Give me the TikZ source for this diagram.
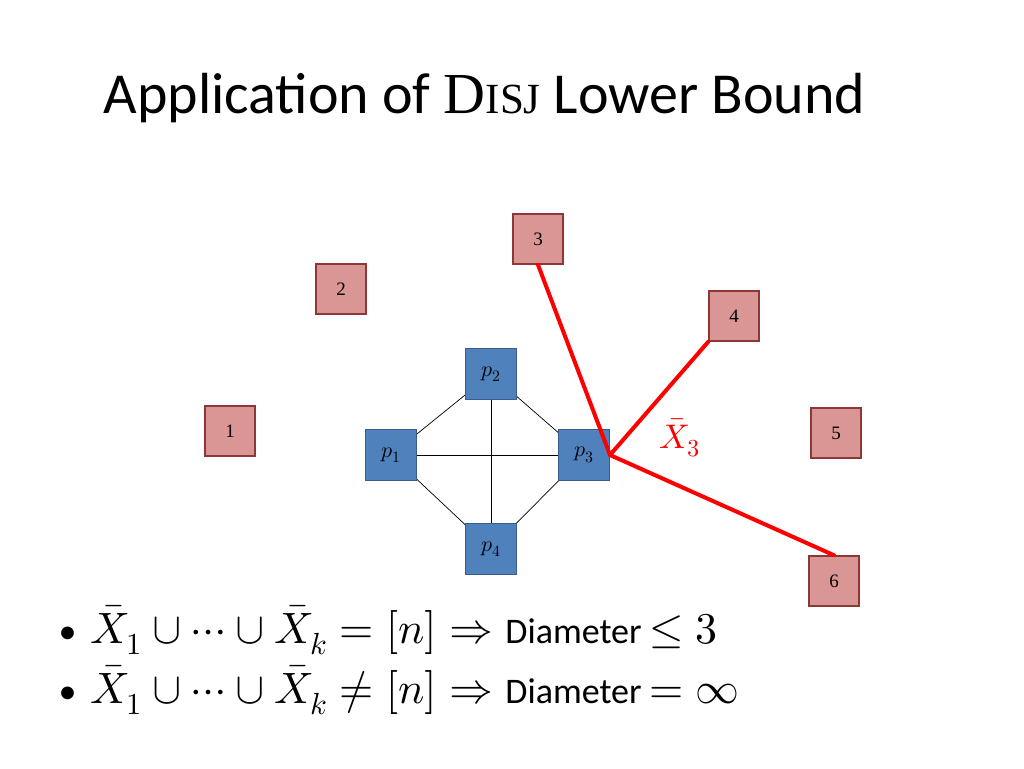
\documentclass[tikz,border=0pt]{standalone}
\usepackage{amsmath}
\usepackage{fontspec}
\usepackage{unicode-math}
\setmainfont{Carlito}
\setmathfont{Latin Modern Math}[Scale=1.22]
\DeclareMathSizes{18}{18}{13}{10}
\DeclareMathSizes{28}{28}{20}{14}
\DeclareMathSizes{36}{36}{25}{18}
\newfontfamily\serifnum{Liberation Serif}
\definecolor{pinkf}{RGB}{217,150,148}
\definecolor{pinkd}{RGB}{140,56,54}
\definecolor{bluef}{RGB}{79,129,189}
\definecolor{blued}{RGB}{56,93,138}
\begin{document}
\begin{tikzpicture}[x=1pt,y=-1pt,
  pk/.style={draw=pinkd,fill=pinkf,line width=1.5pt,minimum size=50pt,inner sep=0pt,font=\fontsize{19}{22}\selectfont\serifnum},
  bl/.style={draw=blued,fill=bluef,line width=1.5pt,minimum size=51pt,inner sep=0pt,font=\fontsize{18}{20}\selectfont},
  thin/.style={black,line width=0.7pt},
  red/.style={draw=red,line width=4pt}]
\useasboundingbox (0,0) rectangle (1024,768);
\node[anchor=west] (title) at (100,98) {\fontsize{58}{64}\selectfont Application of {\serifnum D\fontsize{43}{46}\selectfont ISJ} Lower Bound};
\node[pk] (n1) at (230,431) {1};
\node[pk] (n2) at (341,289) {2};
\node[pk] (n3) at (538,239) {3};
\node[pk] (n4) at (734,316) {4};
\node[pk] (n5) at (836,433) {5};
\node[pk] (n6) at (834,581) {6};
\draw[thin] (391,455) -- (491,374) -- (584,455) -- (491,549) -- cycle;
\draw[thin] (391,455) -- (584,455);
\draw[thin] (491,374) -- (491,549);
\node[bl] (p1) at (391,455) {$p_1$};
\node[bl] (p2) at (491,374) {$p_2$};
\node[bl] (p3) at (584,455) {$p_3$};
\node[bl] (p4) at (491,549) {$p_4$};
\coordinate (c) at (610,455);
\draw[red,line cap=round] (n3.south) -- (c) -- (n6.north);
\draw[red,line cap=round] (n4.south west) -- (c);
\node[text=red] (lab) at (680,438) {\fontsize{28}{30}\selectfont $\bar{X}_3$};
\node[anchor=west] (b1) at (55,630) {\fontsize{36}{40}\selectfont •\hspace{14pt}$\bar{X}_1\cup\cdots\cup\bar{X}_k=[n]\Rightarrow{}$Diameter$\,\le 3$};
\node[anchor=west] (b2) at (55,690) {\fontsize{36}{40}\selectfont •\hspace{14pt}$\bar{X}_1\cup\cdots\cup\bar{X}_k\ne[n]\Rightarrow{}$Diameter$\,=\infty$};
\end{tikzpicture}
\end{document}
